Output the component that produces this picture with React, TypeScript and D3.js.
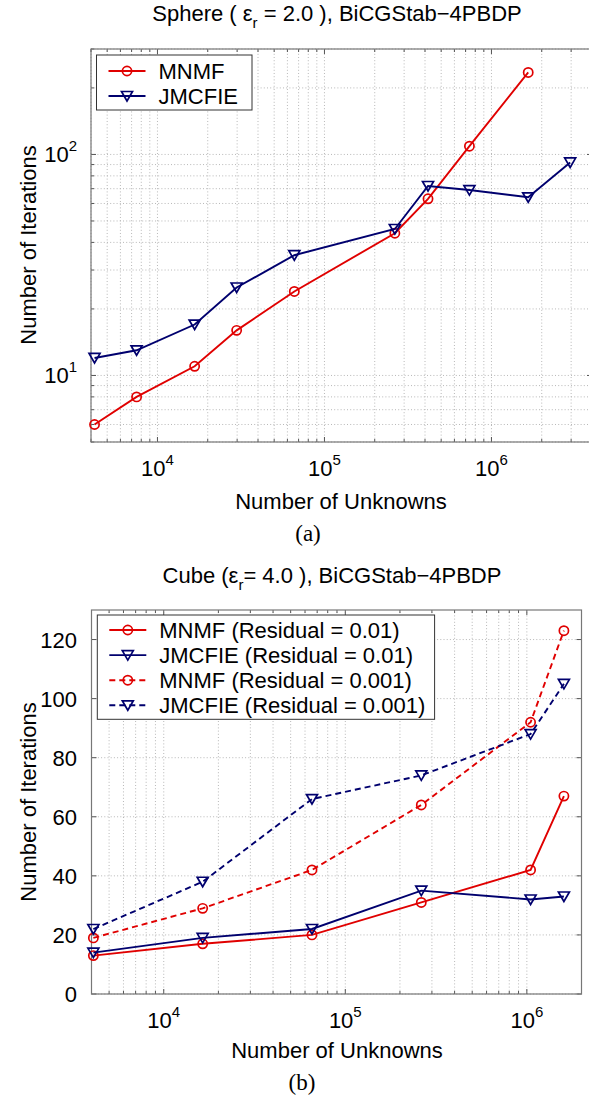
import React, { useEffect, useRef } from "react";
import * as d3 from "d3";

// Sphere (eps_r = 2.0) panel
const sphereUnknowns = [4200, 7500, 16700, 29800, 66000, 264000, 417000, 738000, 1660000, 2960000];
const sphereMnmf = [6, 8, 11, 16, 24, 44, 63, 109, 235];
const sphereJmcfie = [12, 13, 17, 25, 35, 46, 72, 69, 64, 92];
const sphereYTickExps = [1, 2];

// Cube (eps_r = 4.0) panel
const cubeUnknowns = [4096, 16384, 65536, 262144, 1048576, 1600000];
const cubeMnmf01 = [13, 17, 20, 31, 42, 67];
const cubeJmcfie01 = [14, 19, 22, 35, 32, 33];
const cubeMnmf001 = [19, 29, 42, 64, 92, 123];
const cubeJmcfie001 = [22, 38, 66, 74, 88, 105];
const cubeYTicks = [0, 20, 40, 60, 80, 100, 120];

const xTickExps = [4, 5, 6];

const RED = "#e00000";
const NAVY = "#00006e";
const FONT = "'Liberation Sans', Arial, Helvetica, sans-serif";

const tri = "M-5.5,-4.5L5.5,-4.5L0,5Z";

// 1..9 x 10^e values inside [lo, hi]
const logSteps = (lo, hi) => {
  const out = [];
  for (let e = Math.floor(Math.log10(lo)); e <= Math.ceil(Math.log10(hi)); e++) {
    for (let k = 1; k <= 9; k++) {
      const v = k * Math.pow(10, e);
      if (v >= lo * 0.999 && v <= hi * 1.001) out.push({ v, major: k === 1 });
    }
  }
  return out;
};

const drawMarkers = (g, xs, ys, x, y, kind, color) => {
  const pts = ys.map((v, i) => [xs[i], v]);
  if (kind === "circle") {
    g.selectAll(null)
      .data(pts)
      .join("circle")
      .attr("cx", (d) => x(d[0]))
      .attr("cy", (d) => y(d[1]))
      .attr("r", 4.6)
      .attr("fill", "none")
      .attr("stroke", color)
      .attr("stroke-width", 1.7);
  } else {
    g.selectAll(null)
      .data(pts)
      .join("path")
      .attr("d", tri)
      .attr("transform", (d) => `translate(${x(d[0])},${y(d[1])})`)
      .attr("fill", "none")
      .attr("stroke", color)
      .attr("stroke-width", 1.7);
  }
};

const drawSeries = (g, xs, ys, x, y, color, kind, dashed) => {
  const line = d3
    .line()
    .x((d, i) => x(xs[i]))
    .y((d) => y(d));
  g.append("path")
    .datum(ys)
    .attr("fill", "none")
    .attr("stroke", color)
    .attr("stroke-width", 1.9)
    .attr("stroke-dasharray", dashed ? "6,4" : null)
    .attr("d", line);
  drawMarkers(g, xs, ys, x, y, kind, color);
};

const drawFrame = (g, x, y, yLog, yMajor) => {
  const [x0, x1] = x.range();
  const [y0, y1] = y.range(); // y0 bottom, y1 top
  const xs = logSteps(x.domain()[0], x.domain()[1]);
  const ys = yLog
    ? logSteps(y.domain()[0], y.domain()[1])
    : yMajor.map((v) => ({ v, major: true }));

  // dotted grid
  const grid = g.append("g").attr("stroke", "#b0b0b0").attr("stroke-width", 0.9).attr("stroke-dasharray", "1,2.2");
  xs.forEach((t) => {
    grid.append("line").attr("x1", x(t.v)).attr("x2", x(t.v)).attr("y1", y0).attr("y2", y1);
  });
  ys.forEach((t) => {
    grid.append("line").attr("x1", x0).attr("x2", x1).attr("y1", y(t.v)).attr("y2", y(t.v));
  });

  // inward ticks on all four sides
  const ticks = g.append("g").attr("stroke", "#555").attr("stroke-width", 1);
  xs.forEach((t) => {
    const len = t.major ? 5 : 3;
    ticks.append("line").attr("x1", x(t.v)).attr("x2", x(t.v)).attr("y1", y0).attr("y2", y0 - len);
    ticks.append("line").attr("x1", x(t.v)).attr("x2", x(t.v)).attr("y1", y1).attr("y2", y1 + len);
  });
  ys.forEach((t) => {
    const len = t.major ? 5 : 3;
    ticks.append("line").attr("x1", x0).attr("x2", x0 + len).attr("y1", y(t.v)).attr("y2", y(t.v));
    ticks.append("line").attr("x1", x1).attr("x2", x1 - len).attr("y1", y(t.v)).attr("y2", y(t.v));
  });

  g.append("rect")
    .attr("x", x0)
    .attr("y", y1)
    .attr("width", x1 - x0)
    .attr("height", y0 - y1)
    .attr("fill", "none")
    .attr("stroke", "#777")
    .attr("stroke-width", 1.2);
};

const powLabel = (g, px, py, exp, anchor) => {
  const t = g
    .append("text")
    .attr("x", px)
    .attr("y", py)
    .attr("text-anchor", anchor)
    .style("font-size", "22px");
  t.append("tspan").text("10");
  t.append("tspan").attr("dy", -11).style("font-size", "15px").text(exp);
};

const drawLegend = (g, box, rows) => {
  g.append("rect")
    .attr("x", box.x)
    .attr("y", box.y)
    .attr("width", box.w)
    .attr("height", box.h)
    .attr("fill", "#fff")
    .attr("stroke", "#333")
    .attr("stroke-width", 1);
  rows.forEach((r, i) => {
    const cy = box.y + box.pad + i * box.step;
    const lx = d3.scaleLinear().domain([0, 1]).range([box.x + 12, box.x + 49]);
    const ly = () => cy;
    g.append("line")
      .attr("x1", lx(0))
      .attr("x2", lx(1))
      .attr("y1", cy)
      .attr("y2", cy)
      .attr("stroke", r.color)
      .attr("stroke-width", 1.9)
      .attr("stroke-dasharray", r.dashed ? "6,4" : null);
    drawMarkers(g, [0.5], [0], lx, ly, r.kind, r.color);
    g.append("text")
      .attr("x", box.x + 62)
      .attr("y", cy)
      .attr("dy", "0.36em")
      .style("font-size", "22px")
      .text(r.label);
  });
};

const App = () => {
  const svgRef = useRef();
  const W = 589;
  const H = 1102;

  useEffect(() => {
    const svg = d3.select(svgRef.current);
    svg.selectAll("*").remove();
    svg.style("font-family", FONT);

    // ---------- (a) sphere ----------
    const xa = d3.scaleLog().domain([4000, 4e6]).range([91, 592]);
    const ya = d3.scaleLog().domain([5, 300]).range([442, 49]);
    const ga = svg.append("g");
    drawFrame(ga, xa, ya, true, null);
    drawSeries(ga, sphereUnknowns, sphereMnmf, xa, ya, RED, "circle", false);
    drawSeries(ga, sphereUnknowns, sphereJmcfie, xa, ya, NAVY, "tri", false);

    xTickExps.forEach((e) => powLabel(ga, xa(Math.pow(10, e)), 476, e, "middle"));
    sphereYTickExps.forEach((e) => powLabel(ga, 77, ya(Math.pow(10, e)) + 8, e, "end"));

    const ta = ga.append("text").attr("x", 337).attr("y", 21).attr("text-anchor", "middle").style("font-size", "22px");
    ta.append("tspan").text("Sphere ( \u03b5");
    ta.append("tspan").attr("dy", 7).style("font-size", "15px").text("r");
    ta.append("tspan").attr("dy", -7).text(" = 2.0 ), BiCGStab\u22124PBDP");

    ga.append("text")
      .attr("x", 341)
      .attr("y", 509)
      .attr("text-anchor", "middle")
      .style("font-size", "22px")
      .text("Number of Unknowns");
    ga.append("text")
      .attr("transform", "rotate(-90)")
      .attr("x", -245)
      .attr("y", 36)
      .attr("text-anchor", "middle")
      .style("font-size", "22px")
      .text("Number of Iterations");
    ga.append("text")
      .attr("x", 308)
      .attr("y", 541)
      .attr("text-anchor", "middle")
      .style("font-family", "'Liberation Serif', 'Times New Roman', serif")
      .style("font-size", "23px")
      .text("(a)");

    drawLegend(
      ga,
      { x: 96.5, y: 55, w: 155.5, h: 55, pad: 16, step: 25 },
      [
        { label: "MNMF", color: RED, kind: "circle", dashed: false },
        { label: "JMCFIE", color: NAVY, kind: "tri", dashed: false },
      ]
    );

    // ---------- (b) cube ----------
    const xb = d3.scaleLog().domain([4000, 2e6]).range([91.5, 581.5]);
    const yb = d3.scaleLinear().domain([0, 130]).range([994, 610]);
    const gb = svg.append("g");
    drawFrame(gb, xb, yb, false, cubeYTicks);
    drawSeries(gb, cubeUnknowns, cubeMnmf01, xb, yb, RED, "circle", false);
    drawSeries(gb, cubeUnknowns, cubeJmcfie01, xb, yb, NAVY, "tri", false);
    drawSeries(gb, cubeUnknowns, cubeMnmf001, xb, yb, RED, "circle", true);
    drawSeries(gb, cubeUnknowns, cubeJmcfie001, xb, yb, NAVY, "tri", true);

    xTickExps.forEach((e) => powLabel(gb, xb(Math.pow(10, e)), 1028, e, "middle"));
    cubeYTicks.forEach((v) => {
      gb.append("text")
        .attr("x", 77)
        .attr("y", yb(v) + 8)
        .attr("text-anchor", "end")
        .style("font-size", "22px")
        .text(v);
    });

    const tb = gb.append("text").attr("x", 332).attr("y", 583).attr("text-anchor", "middle").style("font-size", "22px");
    tb.append("tspan").text("Cube (\u03b5");
    tb.append("tspan").attr("dy", 7).style("font-size", "15px").text("r");
    tb.append("tspan").attr("dy", -7).text("= 4.0 ), BiCGStab\u22124PBDP");

    gb.append("text")
      .attr("x", 337)
      .attr("y", 1058)
      .attr("text-anchor", "middle")
      .style("font-size", "22px")
      .text("Number of Unknowns");
    gb.append("text")
      .attr("transform", "rotate(-90)")
      .attr("x", -802)
      .attr("y", 36)
      .attr("text-anchor", "middle")
      .style("font-size", "22px")
      .text("Number of Iterations");
    gb.append("text")
      .attr("x", 302)
      .attr("y", 1090)
      .attr("text-anchor", "middle")
      .style("font-family", "'Liberation Serif', 'Times New Roman', serif")
      .style("font-size", "23px")
      .text("(b)");

    drawLegend(
      gb,
      { x: 97.3, y: 615, w: 337.3, h: 104.3, pad: 15, step: 25.1 },
      [
        { label: "MNMF (Residual = 0.01)", color: RED, kind: "circle", dashed: false },
        { label: "JMCFIE (Residual = 0.01)", color: NAVY, kind: "tri", dashed: false },
        { label: "MNMF (Residual = 0.001)", color: RED, kind: "circle", dashed: true },
        { label: "JMCFIE (Residual = 0.001)", color: NAVY, kind: "tri", dashed: true },
      ]
    );
  }, []);

  return (
    <svg
      ref={svgRef}
      width={W}
      height={H}
      style={{ position: "absolute", left: 0, top: 0, background: "#fff" }}
    ></svg>
  );
};

export default App;
